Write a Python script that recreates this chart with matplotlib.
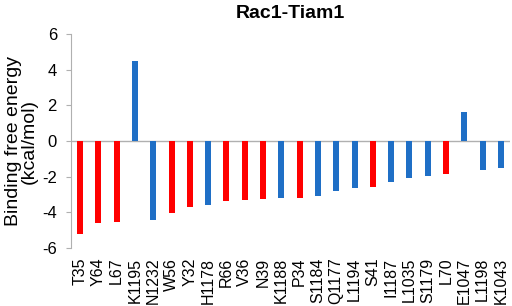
import numpy as np
import matplotlib
matplotlib.use("Agg")
import matplotlib.pyplot as plt

plt.rcParams['font.family'] = ['Liberation Sans', 'DejaVu Sans']

residues = ['T35', 'Y64', 'L67', 'K1195', 'N1232', 'W56', 'Y32', 'H1178', 'R66',
            'V36', 'N39', 'K1188', 'P34', 'S1184', 'Q1177', 'L1194', 'S41', 'I1187',
            'L1035', 'S1179', 'L70', 'E1047', 'L1198', 'K1043']
energy = [-5.2, -4.6, -4.54, 4.51, -4.45, -4.02, -3.72, -3.6, -3.37,
          -3.31, -3.27, -3.21, -3.22, -3.07, -2.83, -2.61, -2.59, -2.29,
          -2.05, -1.94, -1.86, 1.62, -1.6, -1.53]
# which protein each residue belongs to: Rac1 (red) or Tiam1 (blue)
protein = ['Rac1', 'Rac1', 'Rac1', 'Tiam1', 'Tiam1', 'Rac1', 'Rac1', 'Tiam1', 'Rac1',
           'Rac1', 'Rac1', 'Tiam1', 'Rac1', 'Tiam1', 'Tiam1', 'Tiam1', 'Rac1', 'Tiam1',
           'Tiam1', 'Tiam1', 'Rac1', 'Tiam1', 'Tiam1', 'Tiam1']
yticks = [-6, -4, -2, 0, 2, 4, 6]

colors = {'Rac1': '#ff0000', 'Tiam1': '#1f6fc6'}

fig = plt.figure(figsize=(5.12, 3.06), dpi=100)
ax = fig.add_axes([71 / 512, 1 - 248 / 306, 439 / 512, 214 / 306])

x = np.arange(len(residues))
ax.bar(x, energy, width=0.33, color=[colors[p] for p in protein], zorder=3)
ax.axhline(0, color='#b0b0b0', lw=1, zorder=2)

ax.set_xlim(-0.5, len(residues) - 0.5)
ax.set_ylim(-6, 6)
ax.set_yticks(yticks)
ax.set_yticklabels([str(t) for t in yticks], fontsize=12)
ax.set_xticks(x)
ax.set_xticklabels(residues, rotation=90, fontsize=11.5)
ax.tick_params(axis='x', length=0, pad=7)
ax.tick_params(axis='y', length=3.6, color='#b0b0b0', pad=6.5)

for s in ['top', 'right', 'bottom']:
    ax.spines[s].set_visible(False)
ax.spines['left'].set_color('#b0b0b0')

ax.set_ylabel('Binding free energy\n(kcal/mol)', fontsize=14, labelpad=3, linespacing=0.95)
fig.text(290 / 512, 1 - 13 / 306, 'Rac1-Tiam1', fontsize=14, fontweight='bold',
         ha='center', va='center')

fig.savefig('out.png', dpi=100)
